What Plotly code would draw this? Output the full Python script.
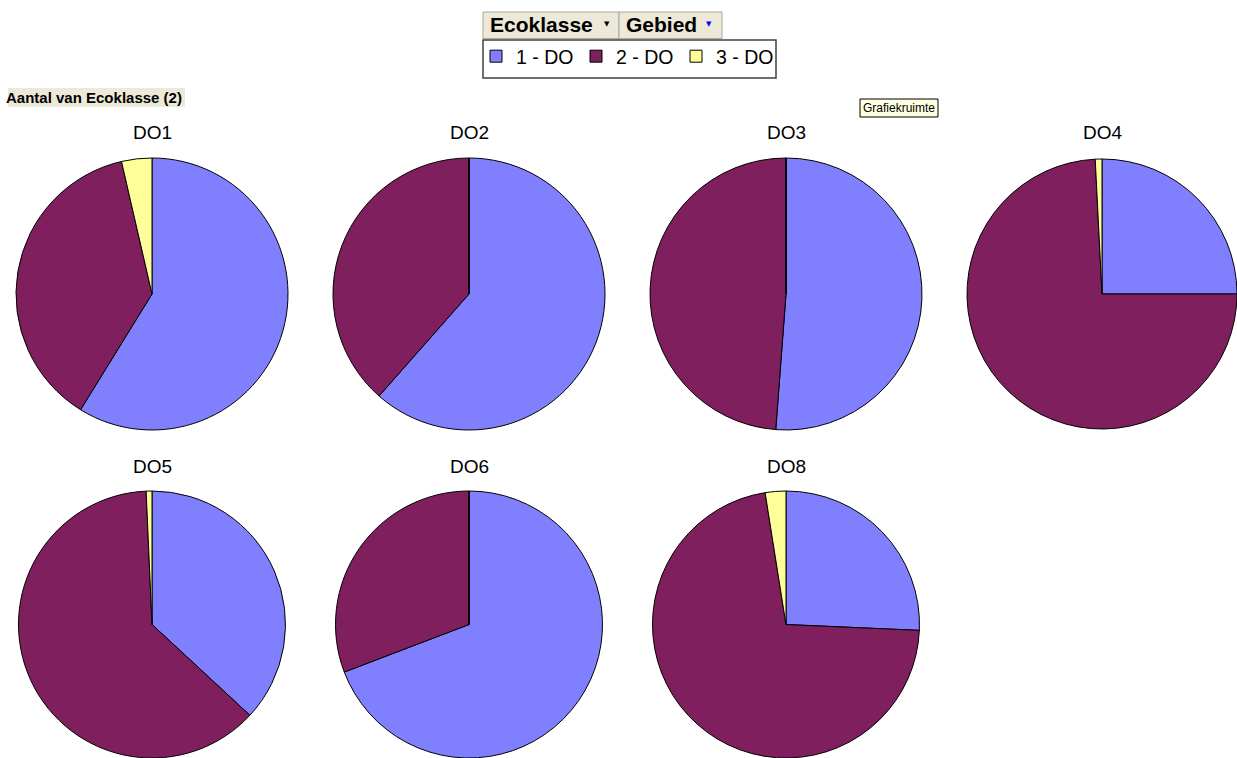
import plotly.graph_objects as go

W, H = 1237, 758

gebieden = ["DO1", "DO2", "DO3", "DO4", "DO5", "DO6", "DO8"]
klassen = ["1 - DO", "2 - DO", "3 - DO"]
klasse_1 = [58.8, 61.5, 51.2, 25.0, 36.9, 69.2, 25.7]
klasse_2 = [37.6, 38.5, 48.8, 74.2, 62.4, 30.8, 71.8]
klasse_3 = [3.6, 0.0, 0.0, 0.8, 0.7, 0.0, 2.5]
kleuren = ["#8080FF", "#7F1F5E", "#FFFF99"]


def px(x):
    return x / W


def py(y):
    return 1 - y / H


centers_x = [152, 469, 786, 1103, 152, 469, 786]
row_top = [158, 158, 158, 158, 491, 491, 491]
D = 272

fig = go.Figure()
for i, g in enumerate(gebieden):
    cx = centers_x[i]
    x0 = max(0, cx - D / 2)
    x1 = min(W, cx + D / 2)
    y0 = row_top[i]
    y1 = min(H, y0 + D)
    fig.add_trace(go.Pie(
        labels=klassen,
        values=[klasse_1[i], klasse_2[i], klasse_3[i]],
        name=g,
        sort=False,
        direction="clockwise",
        rotation=0,
        textinfo="none",
        marker=dict(colors=kleuren, line=dict(color="#000000", width=1)),
        domain=dict(x=[px(x0), px(x1)], y=[py(y1), py(y0)]),
        showlegend=(i == 0),
    ))
    fig.add_annotation(
        x=px(cx), y=py(row_top[i] - 25), xref="paper", yref="paper",
        text=g, showarrow=False, xanchor="center", yanchor="middle",
        font=dict(family="Liberation Sans, Arial", size=19, color="#000000"),
    )

shapes = []
# pivot field buttons
for (bx0, bx1) in [(483, 619), (619, 722)]:
    shapes.append(dict(type="rect", xref="paper", yref="paper",
                       x0=px(bx0), x1=px(bx1), y0=py(38.5), y1=py(12),
                       fillcolor="#ECE9D8", line=dict(color="#ACA899", width=1)))
# legend frame
shapes.append(dict(type="rect", xref="paper", yref="paper",
                   x0=px(483), x1=px(776), y0=py(78), y1=py(40),
                   fillcolor="rgba(0,0,0,0)", line=dict(color="#404040", width=1.5)))
# Aantal label background
shapes.append(dict(type="rect", xref="paper", yref="paper",
                   x0=px(8), x1=px(185), y0=py(107), y1=py(88),
                   fillcolor="#ECE9D8", line=dict(width=0)))
# Grafiekruimte tooltip
shapes.append(dict(type="rect", xref="paper", yref="paper",
                   x0=px(860), x1=px(938), y0=py(117), y1=py(99),
                   fillcolor="#FFFFE1", line=dict(color="#000000", width=1)))
fig.update_layout(shapes=shapes)

hdr_font = dict(family="Liberation Sans, Arial", size=21, color="#000000")
fig.add_annotation(x=px(488), y=py(25), xref="paper", yref="paper", text="<b>Ecoklasse</b>",
                   showarrow=False, xanchor="left", yanchor="middle", font=hdr_font)
fig.add_annotation(x=px(607), y=py(24), xref="paper", yref="paper", text="▼",
                   showarrow=False, xanchor="center", yanchor="middle",
                   font=dict(family="DejaVu Sans", size=7, color="#000000"))
fig.add_annotation(x=px(624), y=py(25), xref="paper", yref="paper", text="<b>Gebied</b>",
                   showarrow=False, xanchor="left", yanchor="middle", font=hdr_font)
fig.add_annotation(x=px(709), y=py(24), xref="paper", yref="paper", text="▼",
                   showarrow=False, xanchor="center", yanchor="middle",
                   font=dict(family="DejaVu Sans", size=7, color="#0000FF"))
fig.add_annotation(x=px(4), y=py(97.5), xref="paper", yref="paper",
                   text="<b>Aantal van Ecoklasse (2)</b>",
                   showarrow=False, xanchor="left", yanchor="middle",
                   font=dict(family="Liberation Sans, Arial", size=15, color="#000000"))
fig.add_annotation(x=px(899), y=py(108), xref="paper", yref="paper",
                   text="Grafiekruimte",
                   showarrow=False, xanchor="center", yanchor="middle",
                   font=dict(family="Liberation Sans, Arial", size=12, color="#000000"))

fig.update_layout(
    width=W, height=H,
    margin=dict(l=0, r=0, t=0, b=0),
    paper_bgcolor="#FFFFFF",
    plot_bgcolor="#FFFFFF",
    legend=dict(
        orientation="h",
        x=px(476), y=py(37), xanchor="left", yanchor="top",
        bgcolor="rgba(0,0,0,0)", borderwidth=0,
        font=dict(family="Liberation Sans, Arial", size=19.5, color="#000000"),
        entrywidth=55,
        traceorder="normal",
    ),
)

fig.write_html("out.html")
